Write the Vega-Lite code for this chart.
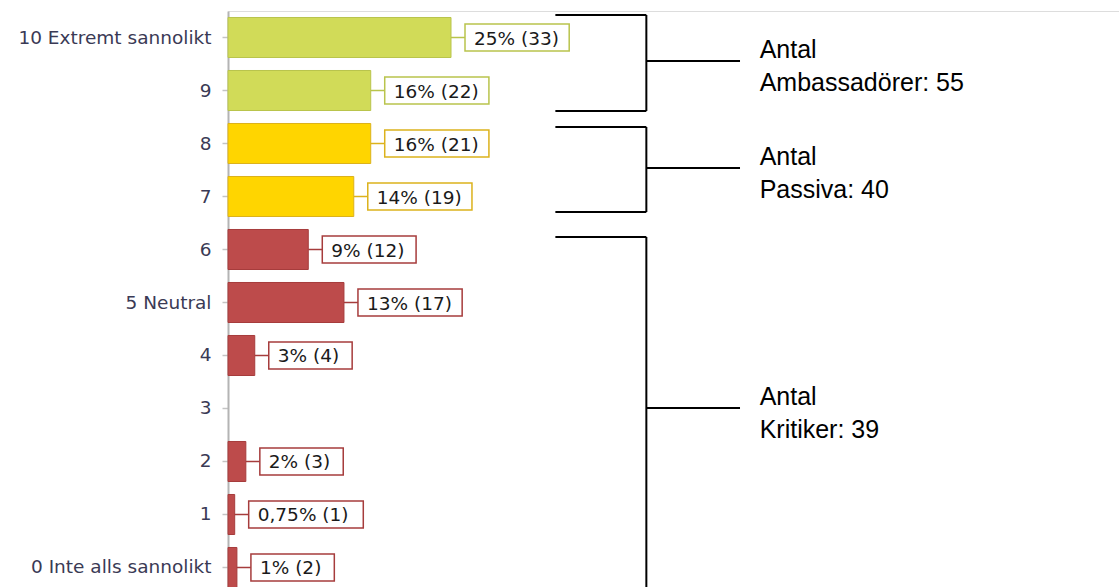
{
  "$schema": "https://vega.github.io/schema/vega-lite/v6.json",
  "autosize": "none",
  "padding": {"left": 228, "top": 11, "right": 0, "bottom": 0},
  "width": 892,
  "height": 583,
  "config": {"view": {"stroke": "#dddddd", "strokeWidth": 1}},
  "layer": [
    {
      "data": {"values": [
        {"score": "10 Extremt sannolikt", "pct": 25, "label": "25% (33)", "group": "Ambassadör"},
        {"score": "9", "pct": 16, "label": "16% (22)", "group": "Ambassadör"},
        {"score": "8", "pct": 16, "label": "16% (21)", "group": "Passiv"},
        {"score": "7", "pct": 14.1, "label": "14% (19)", "group": "Passiv"},
        {"score": "6", "pct": 9, "label": "9% (12)", "group": "Kritiker"},
        {"score": "5 Neutral", "pct": 13, "label": "13% (17)", "group": "Kritiker"},
        {"score": "4", "pct": 3, "label": "3% (4)", "group": "Kritiker"},
        {"score": "3", "pct": 0, "label": "", "group": "Kritiker"},
        {"score": "2", "pct": 2, "label": "2% (3)", "group": "Kritiker"},
        {"score": "1", "pct": 0.75, "label": "0,75% (1)", "group": "Kritiker"},
        {"score": "0 Inte alls sannolikt", "pct": 1, "label": "1% (2)", "group": "Kritiker"}
      ]},
      "layer": [
        {
          "mark": {"type": "bar", "strokeWidth": 1},
          "encoding": {
            "y": {"field": "score", "type": "nominal", "sort": null,
              "scale": {"type": "band", "paddingInner": 0.245, "paddingOuter": 0.1226},
              "axis": {"title": null, "domainColor": "#b4b4b4", "domainWidth": 2, "tickColor": "#c4c4c4", "tickSize": 6, "tickWidth": 1.5,
                "labelFont": "DejaVu Sans", "labelFontSize": 18.5, "labelColor": "#3a3a55", "labelPadding": 11, "labelLimit": 0}},
            "x": {"field": "pct", "type": "quantitative", "scale": {"domain": [0, 100], "nice": false}, "axis": null},
            "fill": {"field": "group", "type": "nominal", "legend": null,
              "scale": {"domain": ["Ambassadör", "Passiv", "Kritiker"], "range": ["#d1db58", "#ffd500", "#bd4b4b"]}},
            "stroke": {"field": "group", "type": "nominal", "legend": null,
              "scale": {"domain": ["Ambassadör", "Passiv", "Kritiker"], "range": ["#b9c44c", "#dcb21c", "#a63c3c"]}},
            "strokeOpacity": {"condition": {"test": "datum.pct == 0", "value": 0}, "value": 1}
          }
        },
        {
          "transform": [{"filter": "datum.label != ''"}],
          "mark": {"type": "rule", "strokeWidth": 1.5, "x2Offset": 14},
          "encoding": {
            "y": {"field": "score", "type": "nominal", "sort": null, "scale": {"type": "band", "paddingInner": 0.245, "paddingOuter": 0.1226}},
            "x": {"field": "pct", "type": "quantitative", "axis": null},
            "x2": {"field": "pct"},
            "stroke": {"field": "group", "type": "nominal", "legend": null}
          }
        },
        {
          "transform": [{"filter": "datum.label != ''"}],
          "mark": {"type": "bar", "fill": "white", "strokeWidth": 1.5, "height": 27, "xOffset": 14, "x2Offset": {"expr": "14 + 10.4 * length(datum.label) + 21"}},
          "encoding": {
            "y": {"field": "score", "type": "nominal", "sort": null, "scale": {"type": "band", "paddingInner": 0.245, "paddingOuter": 0.1226}},
            "x": {"field": "pct", "type": "quantitative", "axis": null},
            "x2": {"field": "pct"},
            "stroke": {"field": "group", "type": "nominal", "legend": null}
          }
        },
        {
          "transform": [{"filter": "datum.label != ''"}],
          "mark": {"type": "text", "align": "left", "baseline": "middle", "dx": 23, "dy": 1, "font": "DejaVu Sans", "fontSize": 18.5, "fill": "#1a1a1a"},
          "encoding": {
            "y": {"field": "score", "type": "nominal", "sort": null, "scale": {"type": "band", "paddingInner": 0.245, "paddingOuter": 0.1226}},
            "x": {"field": "pct", "type": "quantitative", "axis": null},
            "text": {"field": "label"}
          }
        }
      ]
    },
    {
      "data": {"values": [
        {"x1": 36.7, "x2": 46.9, "xm": 57.4, "tx": 59.6, "top": 0.075, "bottom": 1.887, "mid": 0.943, "text": "Antal\nAmbassadörer: 55"},
        {"x1": 36.7, "x2": 46.9, "xm": 57.4, "tx": 59.6, "top": 2.189, "bottom": 3.792, "mid": 2.962, "text": "Antal\nPassiva: 40"},
        {"x1": 36.7, "x2": 46.9, "xm": 57.4, "tx": 59.6, "top": 4.264, "bottom": 11.2, "mid": 7.49, "text": "Antal\nKritiker: 39"}
      ]},
      "layer": [
        {
          "mark": {"type": "rule", "color": "black", "strokeWidth": 2},
          "encoding": {
            "y": {"field": "top", "type": "quantitative", "scale": {"domain": [0, 11], "nice": false, "zero": false, "reverse": true}, "axis": null},
            "x": {"field": "x1", "type": "quantitative", "axis": null},
            "x2": {"field": "x2"}
          }
        },
        {
          "mark": {"type": "rule", "color": "black", "strokeWidth": 2},
          "encoding": {
            "y": {"field": "bottom", "type": "quantitative", "axis": null},
            "x": {"field": "x1", "type": "quantitative", "axis": null},
            "x2": {"field": "x2"}
          }
        },
        {
          "mark": {"type": "rule", "color": "black", "strokeWidth": 2},
          "encoding": {
            "y": {"field": "top", "type": "quantitative", "axis": null},
            "y2": {"field": "bottom"},
            "x": {"field": "x2", "type": "quantitative", "axis": null}
          }
        },
        {
          "mark": {"type": "rule", "color": "black", "strokeWidth": 2},
          "encoding": {
            "y": {"field": "mid", "type": "quantitative", "axis": null},
            "x": {"field": "x2", "type": "quantitative", "axis": null},
            "x2": {"field": "xm"}
          }
        },
        {
          "mark": {"type": "text", "align": "left", "baseline": "alphabetic", "lineBreak": "\n", "lineHeight": 32.4, "dy": -2.5, "font": "Liberation Sans", "fontSize": 25, "fill": "black"},
          "encoding": {
            "y": {"field": "mid", "type": "quantitative", "axis": null},
            "x": {"field": "tx", "type": "quantitative", "axis": null},
            "text": {"field": "text"}
          }
        }
      ]
    }
  ],
  "resolve": {"scale": {"y": "independent"}, "axis": {"y": "independent"}}
}
